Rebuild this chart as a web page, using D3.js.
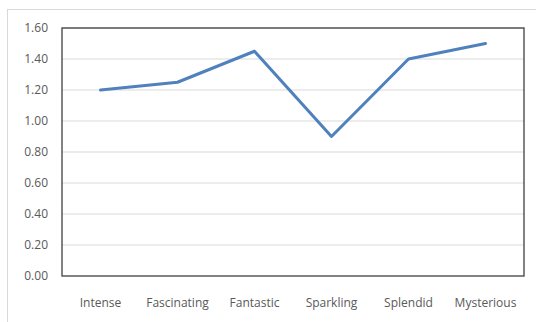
<!DOCTYPE html>
<html>
<head>
<meta charset="utf-8">
<script src="https://cdn.jsdelivr.net/npm/d3@7"></script>
<style>
  body { margin: 0; background: #fff; }
  svg { display: block; }
  text { font-family: "Open Sans", "Noto Sans", sans-serif; fill: #595959; }
</style>
</head>
<body>
<svg id="chart" width="536" height="322"></svg>
<script>
const categories = ["Intense", "Fascinating", "Fantastic", "Sparkling", "Splendid", "Mysterious"];
const values = [1.2, 1.25, 1.45, 0.9, 1.4, 1.5];
const yTicks = [0, 0.2, 0.4, 0.6, 0.8, 1.0, 1.2, 1.4, 1.6];

const svg = d3.select("#chart");
const margin = { top: 28, right: 12, bottom: 46, left: 62 };
const width = 536 - margin.left - margin.right;
const height = 322 - margin.top - margin.bottom;

// outer chart frame
svg.append("rect")
    .attr("x", 7.5).attr("y", 9.5)
    .attr("width", 540).attr("height", 330)
    .attr("fill", "none")
    .attr("stroke", "#d9d9d9");

const g = svg.append("g")
    .attr("transform", `translate(${margin.left},${margin.top})`);

const x = d3.scaleBand().domain(categories).range([0, width]);
const y = d3.scaleLinear().domain([0, 1.6]).range([height, 0]);

// gridlines
g.selectAll(".grid")
    .data(yTicks.slice(1))
    .enter()
    .append("line")
    .attr("x1", 0).attr("x2", width)
    .attr("y1", d => y(d)).attr("y2", d => y(d))
    .attr("stroke", "#d9d9d9")
    .attr("stroke-width", 1);

// plot border
g.append("rect")
    .attr("width", width).attr("height", height)
    .attr("fill", "none")
    .attr("stroke", "#404040")
    .attr("stroke-width", 1.3);

// y labels
g.selectAll(".ylab")
    .data(yTicks)
    .enter()
    .append("text")
    .attr("x", -14)
    .attr("y", d => y(d))
    .attr("dy", "0.35em")
    .attr("text-anchor", "end")
    .style("font-size", "12px")
    .text(d => d.toFixed(2));

// x labels
g.selectAll(".xlab")
    .data(categories)
    .enter()
    .append("text")
    .attr("x", d => x(d) + x.bandwidth() / 2)
    .attr("y", height + 27)
    .attr("dy", "0.35em")
    .attr("text-anchor", "middle")
    .style("font-size", "12px")
    .text(d => d);

const line = d3.line()
    .x((d, i) => x(categories[i]) + x.bandwidth() / 2)
    .y(d => y(d));

g.append("path")
    .datum(values)
    .attr("d", line)
    .attr("fill", "none")
    .attr("stroke", "#4f81bd")
    .attr("stroke-width", 3)
    .attr("stroke-linejoin", "round")
    .attr("stroke-linecap", "round");
</script>
</body>
</html>
